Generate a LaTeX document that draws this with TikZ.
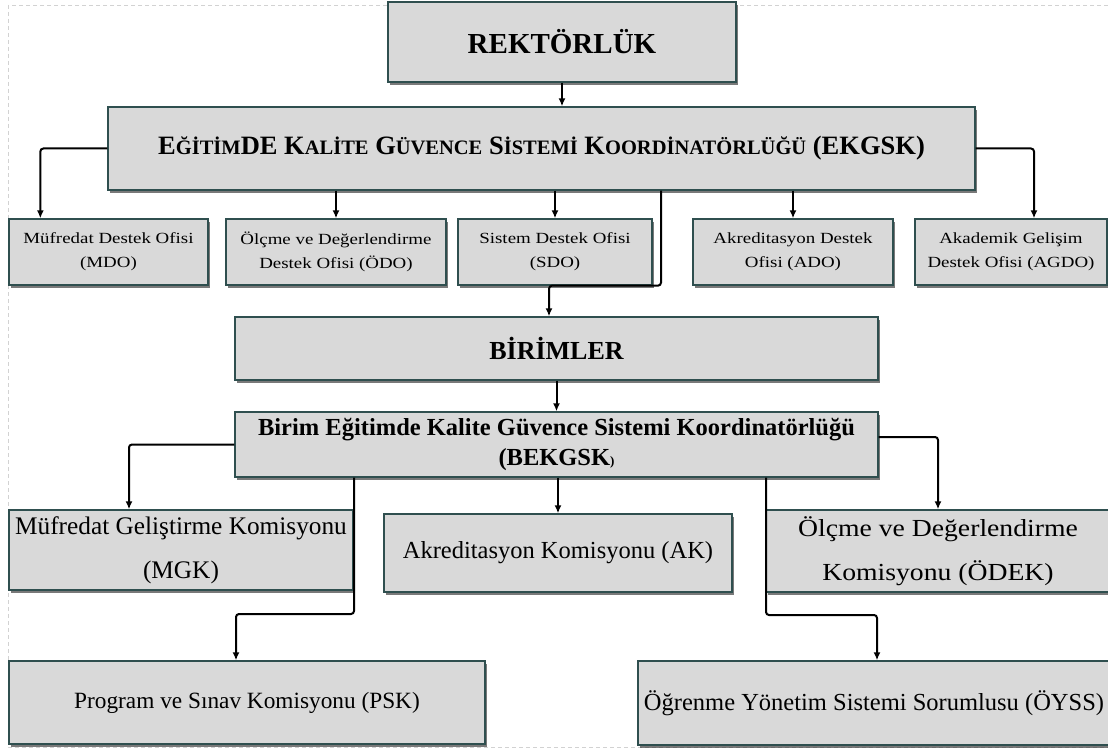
\documentclass[tikz,border=0pt]{standalone}
\usepackage{fontspec}
\setmainfont{Liberation Serif}
\newfontfamily\widefont{Liberation Serif}[FakeStretch=1.22]
\newfontfamily\semiwidefont{Liberation Serif}[FakeStretch=1.13]
\usetikzlibrary{shadows,arrows.meta}
\definecolor{boxfill}{HTML}{D9D9D9}
\definecolor{boxline}{HTML}{2F4F4F}
\newcommand\smc[1]{{\fontsize{20.5}{20.5}\selectfont #1}}
\begin{document}
\begin{tikzpicture}[x=1pt,y=-1pt,
  box/.style={draw=boxline, line width=1.3pt, fill=boxfill, inner sep=0pt, align=center,
     drop shadow={shadow xshift=1.5pt, shadow yshift=-3pt, fill=black!75, opacity=0.7}},
  office/.style={box, font=\widefont\fontsize{15.5}{24}\selectfont},
  comm/.style={box, font=\fontsize{24.5}{44}\selectfont},
  conn/.style={line width=2pt, rounded corners=3pt, -{Latex[length=8pt,width=7pt]}},
  frame/.style={draw=gray!35, line width=0.8pt, dash pattern=on 4pt off 3pt}
]
\useasboundingbox (0,0) rectangle (1108,749);
\draw[frame] (8,5) rectangle (1125,747);

% top level
\node[box, minimum width=348pt, minimum height=80pt, font=\bfseries\fontsize{29}{29}\selectfont] (rek) at (562,42) {REKTÖRLÜK};
\node[box, minimum width=867pt, minimum height=83pt, font=\bfseries\fontsize{26.5}{26.5}\selectfont] (ekgsk) at (541.5,148.5)
  {E\smc{ĞİTİM}DE K\smc{ALİTE} G\smc{ÜVENCE} S\smc{İSTEMİ} K\smc{OORDİNATÖRLÜĞÜ} (EKGSK)};

% offices
\node[office, minimum width=199pt, minimum height=66pt] (mdo) at (108.5,252) {Müfredat Destek Ofisi\\(MDO)};
\node[office, minimum width=220pt, minimum height=66pt] (odo) at (336,252) {Ölçme ve Değerlendirme\\Destek Ofisi (ÖDO)};
\node[office, minimum width=194pt, minimum height=66pt] (sdo) at (555,252) {Sistem Destek Ofisi\\(SDO)};
\node[office, minimum width=200pt, minimum height=66pt] (ado) at (793,252) {Akreditasyon Destek\\Ofisi (ADO)};
\node[office, minimum width=192pt, minimum height=66pt] (agdo) at (1011,252) {Akademik Gelişim\\Destek Ofisi (AGDO)};

% units
\node[box, minimum width=643pt, minimum height=63pt, font=\bfseries\fontsize{26}{26}\selectfont] (birimler) at (556.5,348.5) {BİRİMLER};
\node[box, minimum width=643pt, minimum height=65pt, font=\bfseries\fontsize{24.5}{30}\selectfont] (bekgsk) at (556.5,444.5)
  {Birim Eğitimde Kalite Güvence Sistemi Koordinatörlüğü\\(BEKGSK{\fontsize{13}{13}\selectfont)}};

% commissions
\node[comm, minimum width=344pt, minimum height=80pt, font=\fontsize{25.3}{44}\selectfont] (mgk) at (181,550) {Müfredat Geliştirme Komisyonu\\(MGK)};
\node[comm, minimum width=348pt, minimum height=78pt] (ak) at (558,553) {Akreditasyon Komisyonu (AK)};
\node[comm, minimum width=344pt, minimum height=82pt, font=\semiwidefont\fontsize{24.5}{44}\selectfont] (odek) at (938,551) {Ölçme ve Değerlendirme\\Komisyonu (ÖDEK)};
\node[comm, minimum width=476pt, minimum height=83pt, font=\fontsize{23.3}{44}\selectfont] (psk) at (247,702.5) {Program ve Sınav Komisyonu (PSK)};
\node[comm, minimum width=472pt, minimum height=84pt] (oyss) at (874,703) {Öğrenme Yönetim Sistemi Sorumlusu (ÖYSS)};

\coordinate (pskbend) at (236,614);
\coordinate (oyssbend) at (877,615);

% connectors
\draw[conn] (rek.south) -- (rek.south |- ekgsk.north);
\draw[conn] (ekgsk.west) -| ([xshift=32pt]mdo.north west);
\draw[conn] (ekgsk.south -| odo.north) -- (odo.north);
\draw[conn] (ekgsk.south -| sdo.north) -- (sdo.north);
\draw[conn] (ekgsk.south -| ado.north) -- (ado.north);
\draw[conn] (ekgsk.east) -| ([xshift=23pt]agdo.north);
\draw[conn] ([xshift=119.5pt]ekgsk.south) |- ([xshift=-6pt]sdo.south) -- ([xshift=-7.5pt]birimler.north);
\draw[conn] (birimler.south) -- (bekgsk.north);
\draw[conn] (bekgsk.west) -| ([xshift=-52pt]mgk.north);
\draw[conn] ([yshift=7.5pt]bekgsk.east) -| (odek.north);
\draw[conn] (bekgsk.south -| ak.north) -- (ak.north);
\draw[conn] ([xshift=-202.5pt]bekgsk.south) |- (pskbend) -- ([xshift=-11pt]psk.north);
\draw[conn] ([xshift=209.5pt]bekgsk.south) |- (oyssbend) -- ([xshift=3pt]oyss.north);
\end{tikzpicture}
\end{document}
